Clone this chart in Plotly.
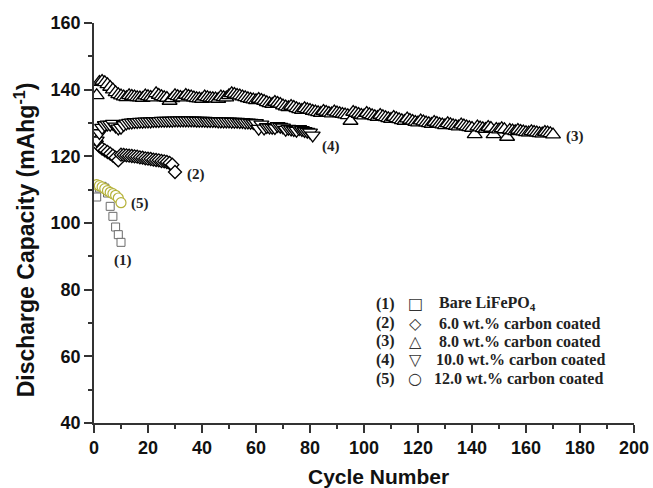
import plotly.graph_objects as go

# ---------------- data ----------------
cyc1 = list(range(1, 11))
bare = [107.8, 110.5, 111.0, 110.5, 109.0, 105.0, 102.0, 98.8, 96.5, 94.2]

cyc2 = list(range(1, 31))
c6 = [124.5, 123.0, 122.3, 121.8, 121.3, 120.8, 120.2, 119.6, 118.8, 120.5,
      120.4, 120.3, 120.2, 120.1, 120.0, 119.9, 119.7, 119.6, 119.4, 119.3,
      119.2, 119.0, 118.9, 118.8, 118.6, 118.5, 118.3, 118.0, 117.5, 115.3]

cyc3 = list(range(1, 171))
c8 = [138.3, 142.3, 142.6, 142.2, 141.6, 140.8, 140.0, 139.2, 138.6, 138.2,
      137.9, 137.7, 138.3, 138.1, 137.9, 137.7, 137.6, 137.5, 138.2, 138.0,
      137.8, 137.6, 138.9, 138.4, 138.0, 137.7, 137.5, 136.6, 137.4, 138.3,
      138.0, 137.8, 137.6, 138.4, 138.1, 137.9, 137.6, 137.4, 137.3, 137.2,
      137.9, 137.7, 137.5, 137.4, 137.3, 137.2, 137.9, 137.7, 137.6, 138.3,
      138.9, 138.7, 138.4, 138.2, 137.9, 137.7, 137.4, 137.2, 137.0, 136.8,
      137.2, 136.9, 136.6, 136.2, 135.9, 135.7, 136.3, 136.0, 135.7, 135.2,
      134.9, 134.7, 135.1, 134.8, 134.4, 134.1, 133.9, 134.4, 134.1, 133.9,
      133.6, 133.4, 133.2, 133.0, 133.6, 133.3, 133.0, 132.8, 133.4, 133.1,
      132.9, 132.7, 132.5, 132.3, 130.6, 133.3, 133.0, 132.7, 132.4, 132.2,
      133.0, 132.6, 132.3, 132.0, 131.8, 132.4, 132.0, 131.7, 131.4, 131.2,
      131.8, 131.4, 131.1, 130.8, 130.6, 131.3, 130.9, 130.6, 130.3, 130.1,
      130.7, 130.4, 130.1, 129.9, 129.7, 130.3, 130.0, 129.7, 129.5, 129.3,
      129.9, 129.6, 129.3, 129.1, 128.9, 129.5, 129.2, 128.9, 128.7, 128.5,
      126.6, 128.9, 128.6, 128.4, 128.2, 128.8, 128.5, 126.6, 128.2, 128.0,
      128.4, 128.1, 125.8, 127.9, 127.7, 127.5, 127.9, 127.6, 127.4, 127.2,
      127.1, 127.5, 127.3, 127.1, 126.9, 126.8, 127.3, 127.1, 126.9, 126.5]

cyc4 = list(range(1, 82))
c10 = [124.8, 127.0, 128.6, 129.4, 129.6, 129.5, 129.8, 129.0, 128.4, 128.6,
       129.4, 129.9, 130.1, 130.2, 130.3, 130.3, 130.4, 130.4, 130.5, 130.5,
       130.5, 130.6, 130.6, 130.6, 130.7, 130.7, 130.7, 130.7, 130.7, 130.8,
       130.8, 130.8, 130.8, 130.8, 130.8, 130.8, 130.8, 130.7, 130.7, 130.7,
       130.7, 130.6, 130.6, 130.6, 130.6, 130.5, 130.5, 130.5, 130.5, 130.5,
       130.4, 130.4, 130.4, 130.3, 130.3, 130.2, 130.2, 130.1, 130.0, 130.0,
       128.3, 129.6, 128.4, 128.8, 128.7, 128.6, 128.5, 129.1, 128.9, 128.7,
       128.0, 128.3, 128.1, 127.9, 127.7, 128.2, 127.9, 127.6, 127.4, 127.2,
       126.3]

cyc5 = list(range(1, 11))
c12 = [111.5, 111.2, 110.8, 110.3, 109.7, 109.2, 108.8, 108.3, 107.5, 106.1]

x_ticks = [0, 20, 40, 60, 80, 100, 120, 140, 160, 180, 200]
y_ticks = [40, 60, 80, 100, 120, 140, 160]

legend_ids = ["(1)", "(2)", "(3)", "(4)", "(5)"]
legend_syms = ["\u25a1", "\u25c7", "\u25b3", "\u25bd", "\u25cb"]
legend_texts = ["Bare LiFePO<sub>4</sub>", "6.0 wt.% carbon coated", "8.0 wt.% carbon coated",
                "10.0 wt.% carbon coated", "12.0 wt.% carbon coated"]

# ---------------- figure ----------------
fig = go.Figure()

def add(x, y, symbol, size, color, lw):
    fig.add_trace(go.Scatter(
        x=x, y=y, mode="markers",
        marker=dict(symbol=symbol, size=size, color="white",
                    line=dict(color=color, width=lw)),
        showlegend=False, hoverinfo="skip"))

add(cyc1, bare, "square", 8, "#6a6a6a", 1)
add(cyc2, c6, "diamond", 10, "#000000", 1.3)
add(cyc3, c8, "triangle-up", 13, "#000000", 1.3)
add(cyc4, c10, "triangle-down", 13, "#000000", 1.3)
add(cyc5, c12, "circle", 10, "#b5b23a", 1.2)

serif = "Liberation Serif, Times New Roman, serif"
sans = "Liberation Sans, Arial, sans-serif"

annotations = []
# series labels
for txt, x, y in [("(1)", 10.9, 88.8), ("(5)", 17.2, 105.8), ("(2)", 37.8, 114.6),
                  ("(4)", 87.9, 123.0), ("(3)", 178.0, 126.0)]:
    annotations.append(dict(x=x, y=y, xref="x", yref="y", text="<b>" + txt + "</b>",
                            showarrow=False, font=dict(family=serif, size=15, color="#222")))

rows_y = [75.8, 70.0, 64.6, 59.0, 53.3]
text_x = [127.2, 127.2, 127.2, 126.0, 125.2]
for i in range(5):
    annotations.append(dict(x=108.1, y=rows_y[i], xref="x", yref="y",
                            text="<b>" + legend_ids[i] + "</b>", showarrow=False,
                            font=dict(family=serif, size=16, color="#222")))
    annotations.append(dict(x=118.9, y=rows_y[i], xref="x", yref="y",
                            text=legend_syms[i], showarrow=False,
                            font=dict(family="DejaVu Sans", size=16, color="#333")))
    annotations.append(dict(x=text_x[i], y=rows_y[i], xref="x", yref="y", xanchor="left",
                            text="<b>" + legend_texts[i] + "</b>", showarrow=False,
                            font=dict(family=serif, size=16, color="#222")))

# axis titles
annotations.append(dict(x=(378 - 94) / 540, y=(422.7 - 476) / 400, xref="paper", yref="paper",
                        xanchor="center", yanchor="middle",
                        text="<b>Cycle Number</b>", showarrow=False,
                        font=dict(family=sans, size=21, color="#111")))
annotations.append(dict(x=(25 - 94) / 540, y=(422.7 - 240) / 400, xref="paper", yref="paper",
                        xanchor="center", yanchor="middle",
                        text="<b>Discharge Capacity (mAhg<sup>-1</sup>)</b>", showarrow=False,
                        textangle=-90, font=dict(family=sans, size=23, color="#111")))

axis_common = dict(showline=True, linecolor="#333", linewidth=1.5, ticks="outside",
                   ticklen=8, tickwidth=1.5, tickcolor="#333", showgrid=False, zeroline=False,
                   tickfont=dict(family=sans, size=18, color="#111"),
                   minor=dict(ticks="outside", ticklen=4, tickwidth=1.5, tickcolor="#333",
                              dtick=10, showgrid=False))

fig.update_layout(
    width=653, height=488,
    margin=dict(l=94, r=19, t=23, b=65, autoexpand=False),
    paper_bgcolor="white", plot_bgcolor="white",
    xaxis=dict(range=[0, 200], tickvals=x_ticks,
               ticktext=["<b>%d</b>" % v for v in x_ticks], **axis_common),
    yaxis=dict(range=[40, 160], tickvals=y_ticks,
               ticktext=["<b>%d</b>" % v for v in y_ticks], **axis_common),
    annotations=annotations,
)

fig.write_html("out.html", config={"displayModeBar": False},
               post_script="document.body.style.margin='0px';")
